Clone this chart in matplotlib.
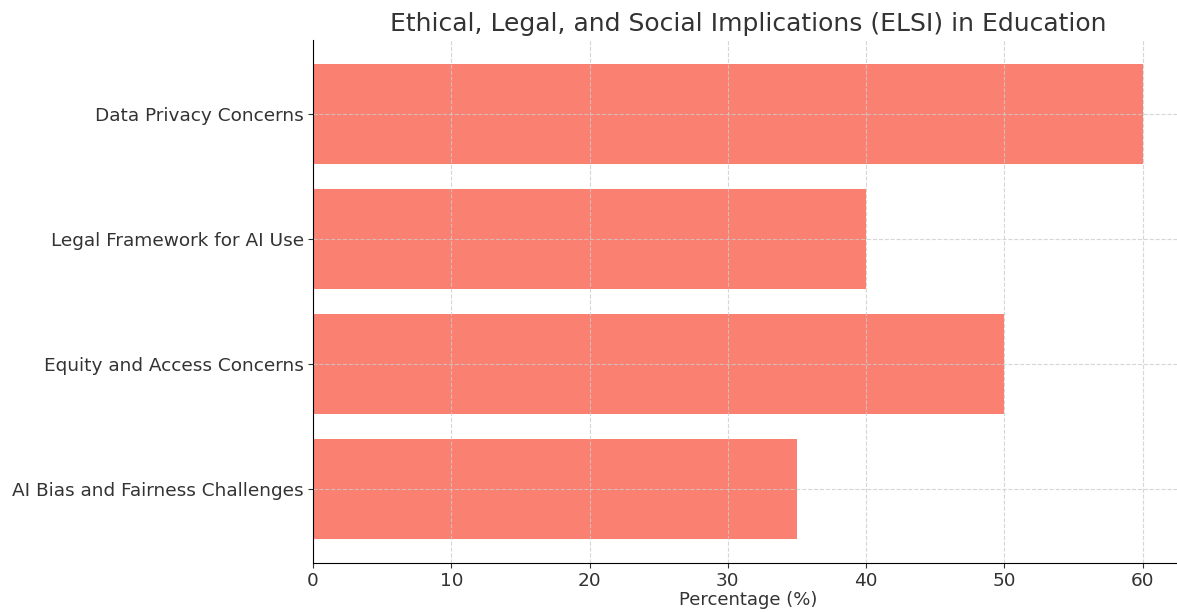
import matplotlib.pyplot as plt

output = "out.png"
fz = 13.3

categories = ['AI Bias and Fairness Challenges', 'Equity and Access Concerns',
              'Legal Framework for AI Use', 'Data Privacy Concerns']
percentages = [35, 50, 40, 60]
x_ticks = [0, 10, 20, 30, 40, 50, 60]

fig = plt.figure(figsize=(11.77, 6.12), dpi=100)
ax = fig.add_axes([0.266, 0.080, 0.740, 0.855])

ax.barh(categories, percentages, color='salmon')

ax.set_title('Ethical, Legal, and Social Implications (ELSI) in Education', fontsize=18, color='#333333')
ax.set_xlabel('Percentage (%)', fontsize=13, color='#333333', labelpad=1)
ax.set_xticks(x_ticks)
ax.tick_params(labelsize=fz, colors='#333333', pad=3)
ax.grid(True, linestyle='--', color='#cccccc', linewidth=0.8, alpha=0.8)
ax.spines['top'].set_visible(False)
ax.spines['right'].set_visible(False)

plt.savefig(output, dpi=100)
plt.close()
